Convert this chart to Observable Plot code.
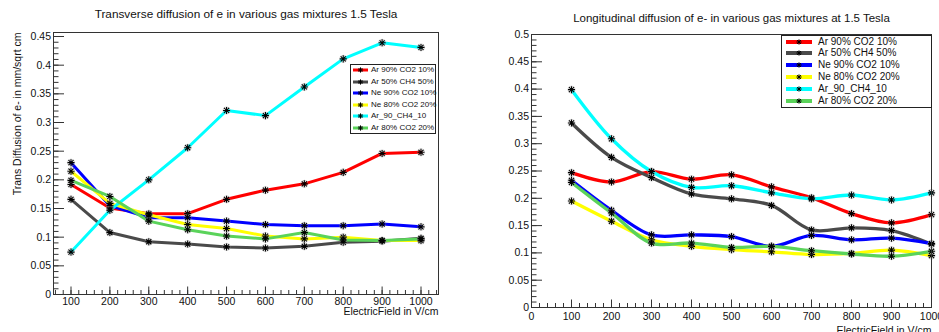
<!DOCTYPE html>
<html>
<head>
<meta charset="utf-8">
<script src="https://cdn.jsdelivr.net/npm/d3@7"></script>
<script src="https://cdn.jsdelivr.net/npm/@observablehq/plot@0.6"></script>
<style>
  html, body { margin: 0; padding: 0; background: white; }
  #wrap { position: relative; width: 939px; height: 332px; overflow: hidden; background: white; font-family: "Liberation Sans", Arial, Helvetica, sans-serif; }
  #wrap svg.plot-panel { position: absolute; top: 0; }
  .legend { position: absolute; background: white; border: 1px solid #222; box-sizing: border-box; }
  .legend .row { position: absolute; left: 0; white-space: nowrap; color: #111; }
  .legend svg { position: absolute; overflow: visible; }
</style>
</head>
<body>
<div id="wrap"></div>
<script>
// ---------- data ----------
const fields = [100, 200, 300, 400, 500, 600, 700, 800, 900, 1000];
const seriesNames = ["Ar 90% CO2 10%", "Ar 50% CH4 50%", "Ne 90% CO2 10%", "Ne 80% CO2 20%", "Ar_90_CH4_10", "Ar 80% CO2 20%"];
const seriesColors = ["#ff0000", "#4a4a4a", "#0000ff", "#ffff00", "#00ffff", "#5ad35a"];

// Transverse diffusion (mm/sqrt cm)
const transAr90CO2 = [0.192, 0.151, 0.141, 0.141, 0.166, 0.182, 0.193, 0.213, 0.246, 0.248];
const transAr50CH4 = [0.166, 0.108, 0.092, 0.088, 0.083, 0.081, 0.084, 0.091, 0.093, 0.098];
const transNe90CO2 = [0.230, 0.155, 0.134, 0.134, 0.128, 0.122, 0.120, 0.120, 0.123, 0.118];
const transNe80CO2 = [0.215, 0.159, 0.139, 0.122, 0.115, 0.102, 0.097, 0.100, 0.094, 0.094];
const transAr90CH4 = [0.074, 0.147, 0.200, 0.256, 0.321, 0.312, 0.362, 0.411, 0.439, 0.431];
const transAr80CO2 = [0.199, 0.171, 0.128, 0.113, 0.102, 0.097, 0.108, 0.095, 0.094, 0.097];

// Longitudinal diffusion
const longAr90CO2 = [0.247, 0.230, 0.249, 0.235, 0.243, 0.221, 0.201, 0.172, 0.155, 0.170];
const longAr50CH4 = [0.338, 0.275, 0.238, 0.208, 0.199, 0.187, 0.142, 0.146, 0.141, 0.116];
const longNe90CO2 = [0.233, 0.178, 0.133, 0.133, 0.130, 0.112, 0.132, 0.124, 0.127, 0.117];
const longNe80CO2 = [0.195, 0.158, 0.124, 0.112, 0.106, 0.102, 0.097, 0.099, 0.105, 0.095];
const longAr90CH4 = [0.399, 0.309, 0.249, 0.220, 0.223, 0.210, 0.199, 0.206, 0.197, 0.210];
const longAr80CO2 = [0.229, 0.173, 0.118, 0.118, 0.110, 0.112, 0.104, 0.098, 0.094, 0.103];

const transSeries = [transAr90CO2, transAr50CH4, transNe90CO2, transNe80CO2, transAr90CH4, transAr80CO2];
const longSeries = [longAr90CO2, longAr50CH4, longNe90CO2, longNe80CO2, longAr90CH4, longAr80CO2];

// tick labels
const leftXTicks = [100, 200, 300, 400, 500, 600, 700, 800, 900, 1000];
const leftYTicks = [0, 0.05, 0.1, 0.15, 0.2, 0.25, 0.3, 0.35, 0.4, 0.45];
const rightXTicks = [0, 100, 200, 300, 400, 500, 600, 700, 800, 900, 1000];
const rightYTicks = [0, 0.05, 0.1, 0.15, 0.2, 0.25, 0.3, 0.35, 0.4, 0.45, 0.5];

const leftTitle = "Transverse diffusion of e in various gas mixtures 1.5 Tesla";
const rightTitle = "Longitudinal diffusion of e- in various gas mixtures at 1.5 Tesla";
const leftYTitle = "Trans Diffusion of e- in mm/sqrt cm";
const xTitle = "ElectricField in V/cm";

// ---------- helpers ----------
const FONT = "Liberation Sans, Arial, Helvetica, sans-serif";
const fmt = d => String(+d.toFixed(2));
function range(a, b, step) { const out = []; for (let v = a; v <= b + 1e-9; v += step) out.push(+v.toFixed(4)); return out; }

function axesMarks(xMajor, yMajor, xMinor, yMinor, xPad, yPad) {
  return [
    Plot.axisX({ticks: xMinor, tickSize: -4, tickFormat: () => "", stroke: "#333", label: null}),
    Plot.axisX({ticks: xMajor, tickSize: -7.5, tickFormat: () => "", stroke: "#333", label: null}),
    Plot.axisX({ticks: xMajor, tickSize: 0, tickPadding: xPad, tickFormat: fmt, fontSize: 10.5, fill: "#111", label: null}),
    Plot.axisY({ticks: yMinor, tickSize: -5.5, tickFormat: () => "", stroke: "#333", label: null}),
    Plot.axisY({ticks: yMajor, tickSize: -11, tickFormat: () => "", stroke: "#333", label: null}),
    Plot.axisY({ticks: yMajor, tickSize: 0, tickPadding: yPad, tickFormat: fmt, fontSize: 10.5, fill: "#111", label: null})
  ];
}

function seriesMarks(series, curve, sw) {
  const marks = [];
  series.forEach((vals, i) => {
    marks.push(Plot.line(vals, {x: fields, y: vals, stroke: seriesColors[i], strokeWidth: sw, curve}));
  });
  series.forEach((vals) => {
    marks.push(Plot.dot(vals, {x: fields, y: vals, r: 3.6, stroke: "#999", strokeOpacity: 0.55, strokeWidth: 0.8, fill: "none"}));
    marks.push(Plot.dot(vals, {x: fields, y: vals, symbol: "plus", r: 2.4, stroke: "black", strokeWidth: 1.1}));
    marks.push(Plot.dot(vals, {x: fields, y: vals, symbol: "times", r: 2.4, stroke: "black", strokeWidth: 1.1}));
  });
  return marks;
}

// ---------- left panel ----------
const left = Plot.plot({
  width: 469, height: 332,
  marginLeft: 53, marginRight: 31, marginTop: 32, marginBottom: 38,
  x: {domain: [55, 1045]},
  y: {domain: [0, 0.457]},
  style: {fontFamily: FONT, background: "white", color: "#111"},
  marks: [
    ...seriesMarks(transSeries, "linear", 3),
    ...axesMarks(leftXTicks, leftYTicks, range(60, 1040, 20), range(0, 0.45, 0.01), 3, 2.5),
    Plot.frame({stroke: "#333", strokeWidth: 1}),
    Plot.text([leftTitle], {frameAnchor: "top", dy: -22.5, fontSize: 11.8, fill: "#111"}),
    Plot.text([leftYTitle], {frameAnchor: "top-left", rotate: -90, textAnchor: "end", dx: -40, fontSize: 10.5, fill: "#111"}),
    Plot.text([xTitle], {frameAnchor: "bottom-right", textAnchor: "end", dy: 20.5, fontSize: 10.5, fill: "#111"})
  ]
});
left.classList.add("plot-panel");
left.style.left = "0px";

// ---------- right panel ----------
const right = Plot.plot({
  width: 470, height: 332,
  marginLeft: 62, marginRight: 8, marginTop: 34, marginBottom: 25,
  x: {domain: [0, 1000]},
  y: {domain: [0, 0.5]},
  style: {fontFamily: FONT, background: "white", color: "#111"},
  marks: [
    ...seriesMarks(longSeries, "catmull-rom", 3.3),
    ...axesMarks(rightXTicks, rightYTicks, range(0, 1000, 20), range(0, 0.5, 0.01), 5, 2.5),
    Plot.frame({stroke: "#333", strokeWidth: 1}),
    Plot.text([rightTitle], {frameAnchor: "top", dy: -21, fontSize: 11.5, fill: "#111"}),
    Plot.text([xTitle], {frameAnchor: "bottom-right", textAnchor: "end", dy: 26, fontSize: 10.5, fill: "#111"})
  ]
});
right.classList.add("plot-panel");
right.style.left = "469px";

const wrap = document.getElementById("wrap");
wrap.appendChild(left);
wrap.appendChild(right);

// ---------- legends ----------
function legend(opts) {
  const box = document.createElement("div");
  box.className = "legend";
  Object.assign(box.style, {left: opts.left + "px", top: opts.top + "px", width: opts.width + "px", height: opts.height + "px"});
  seriesNames.forEach((name, i) => {
    const cy = opts.firstRow + i * opts.rowStep;
    const ns = "http://www.w3.org/2000/svg";
    const svg = document.createElementNS(ns, "svg");
    svg.setAttribute("width", opts.lineLen);
    svg.setAttribute("height", 8);
    svg.style.left = opts.lineX + "px";
    svg.style.top = (cy - 4) + "px";
    const ln = document.createElementNS(ns, "line");
    ln.setAttribute("x1", 0); ln.setAttribute("x2", opts.lineLen);
    ln.setAttribute("y1", 4); ln.setAttribute("y2", 4);
    ln.setAttribute("stroke", seriesColors[i]); ln.setAttribute("stroke-width", opts.lw);
    svg.appendChild(ln);
    const m = opts.lineLen / 2, s = 2.6, d = 1.9;
    const p = document.createElementNS(ns, "path");
    p.setAttribute("d", `M${m - s},4H${m + s}M${m},${4 - s}V${4 + s}M${m - d},${4 - d}L${m + d},${4 + d}M${m - d},${4 + d}L${m + d},${4 - d}`);
    p.setAttribute("stroke", "black"); p.setAttribute("stroke-width", 1);
    svg.appendChild(p);
    box.appendChild(svg);
    const t = document.createElement("div");
    t.className = "row";
    t.textContent = name;
    Object.assign(t.style, {left: opts.textX + "px", top: (cy - opts.fs * 0.6) + "px", fontSize: opts.fs + "px", lineHeight: (opts.fs * 1.2) + "px"});
    box.appendChild(t);
  });
  wrap.appendChild(box);
}

legend({left: 350, top: 64, width: 86, height: 70, firstRow: 5, rowStep: 11.5, lineX: 2, lineLen: 15, lw: 3, textX: 20, fs: 8});
legend({left: 781, top: 35, width: 151, height: 73, firstRow: 5.5, rowStep: 11.9, lineX: 4, lineLen: 26, lw: 4, textX: 36, fs: 10});
</script>
</body>
</html>
